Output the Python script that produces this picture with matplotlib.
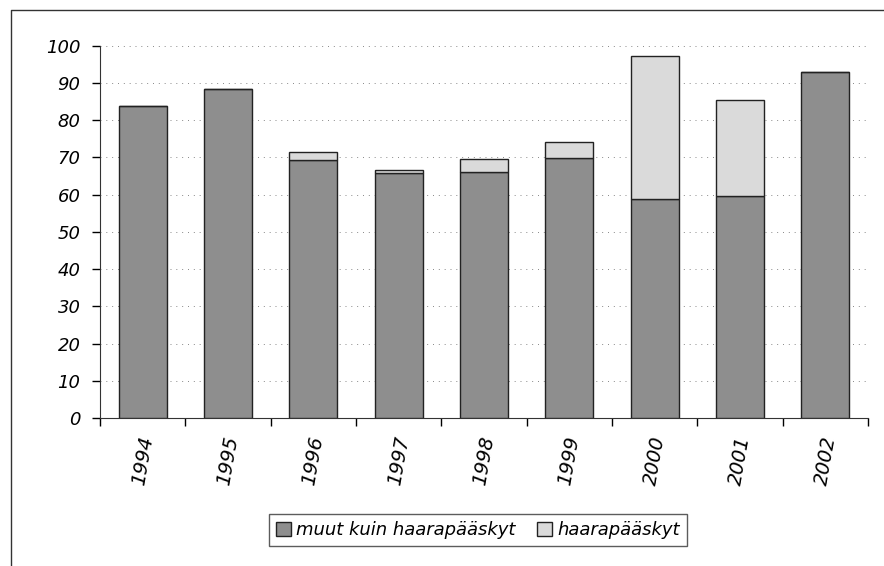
import matplotlib
matplotlib.use("Agg")
import matplotlib.pyplot as plt
from matplotlib.lines import Line2D
import numpy as np

# Chart data
years = ["1994", "1995", "1996", "1997", "1998", "1999", "2000", "2001", "2002"]
muut = [83.7, 88.4, 69.4, 65.9, 66.2, 69.8, 58.9, 59.6, 92.9]
haarapaaskyt = [0.0, 0.0, 2.0, 0.6, 3.5, 4.3, 38.3, 25.7, 0.0]
y_ticks = [0, 10, 20, 30, 40, 50, 60, 70, 80, 90, 100]

dark_color = "#8e8e8e"
light_color = "#dadada"

fig = plt.figure(figsize=(8.84, 5.66), dpi=100)
W, H = 884, 566

# Outer frame: only top and left edges are visible in the reference
fig.lines.append(Line2D([11 / W, 11 / W, 1.0], [0.0, (H - 10) / H, (H - 10) / H],
                        transform=fig.transFigure, color="#333333", linewidth=1.0))

ax = fig.add_axes([100 / W, (H - 418) / H, 768 / W, (418 - 45.7) / H])

x = np.arange(len(years))
ax.bar(x, muut, width=0.56, color=dark_color, edgecolor="#222222",
       linewidth=1.0, label="muut kuin haarapääskyt", zorder=3)
ax.bar(x, haarapaaskyt, width=0.56, bottom=muut, color=light_color,
       edgecolor="#222222", linewidth=1.0, label="haarapääskyt", zorder=3)

ax.set_xlim(-0.5, len(years) - 0.5)
ax.set_ylim(0, 100)

# Ticks sit between categories, labels under the bars
ax.set_xticks(np.arange(len(years) + 1) - 0.5)
ax.set_xticklabels([])
ax.set_xticks(x, minor=True)
ax.set_xticklabels(years, minor=True, rotation=80, fontstyle="italic",
                   fontsize=14, va="top", ha="center")
ax.tick_params(axis="x", which="minor", length=0, pad=12)
ax.tick_params(axis="x", which="major", length=6, direction="out", width=1)

ax.set_yticks(y_ticks)
ax.set_yticklabels([str(t) for t in y_ticks], fontstyle="italic", fontsize=13)
ax.tick_params(axis="y", length=6, width=1, pad=8)

ax.yaxis.grid(True, linestyle=(0, (1, 5)), color="#888888", linewidth=0.7)
ax.set_axisbelow(True)

for side in ["top", "right"]:
    ax.spines[side].set_visible(False)
ax.spines["left"].set_color("#333333")
ax.spines["bottom"].set_color("#333333")

leg = fig.legend(loc="center", bbox_to_anchor=(478 / W, (H - 530) / H),
                 ncol=2, frameon=True, fancybox=False, prop={"style": "italic", "size": 13},
                 handlelength=0.8, handleheight=0.8, handletextpad=0.3,
                 columnspacing=1.2, borderpad=0.4, edgecolor="#333333")
leg.get_frame().set_linewidth(1.0)

fig.savefig("out.png", dpi=100)
